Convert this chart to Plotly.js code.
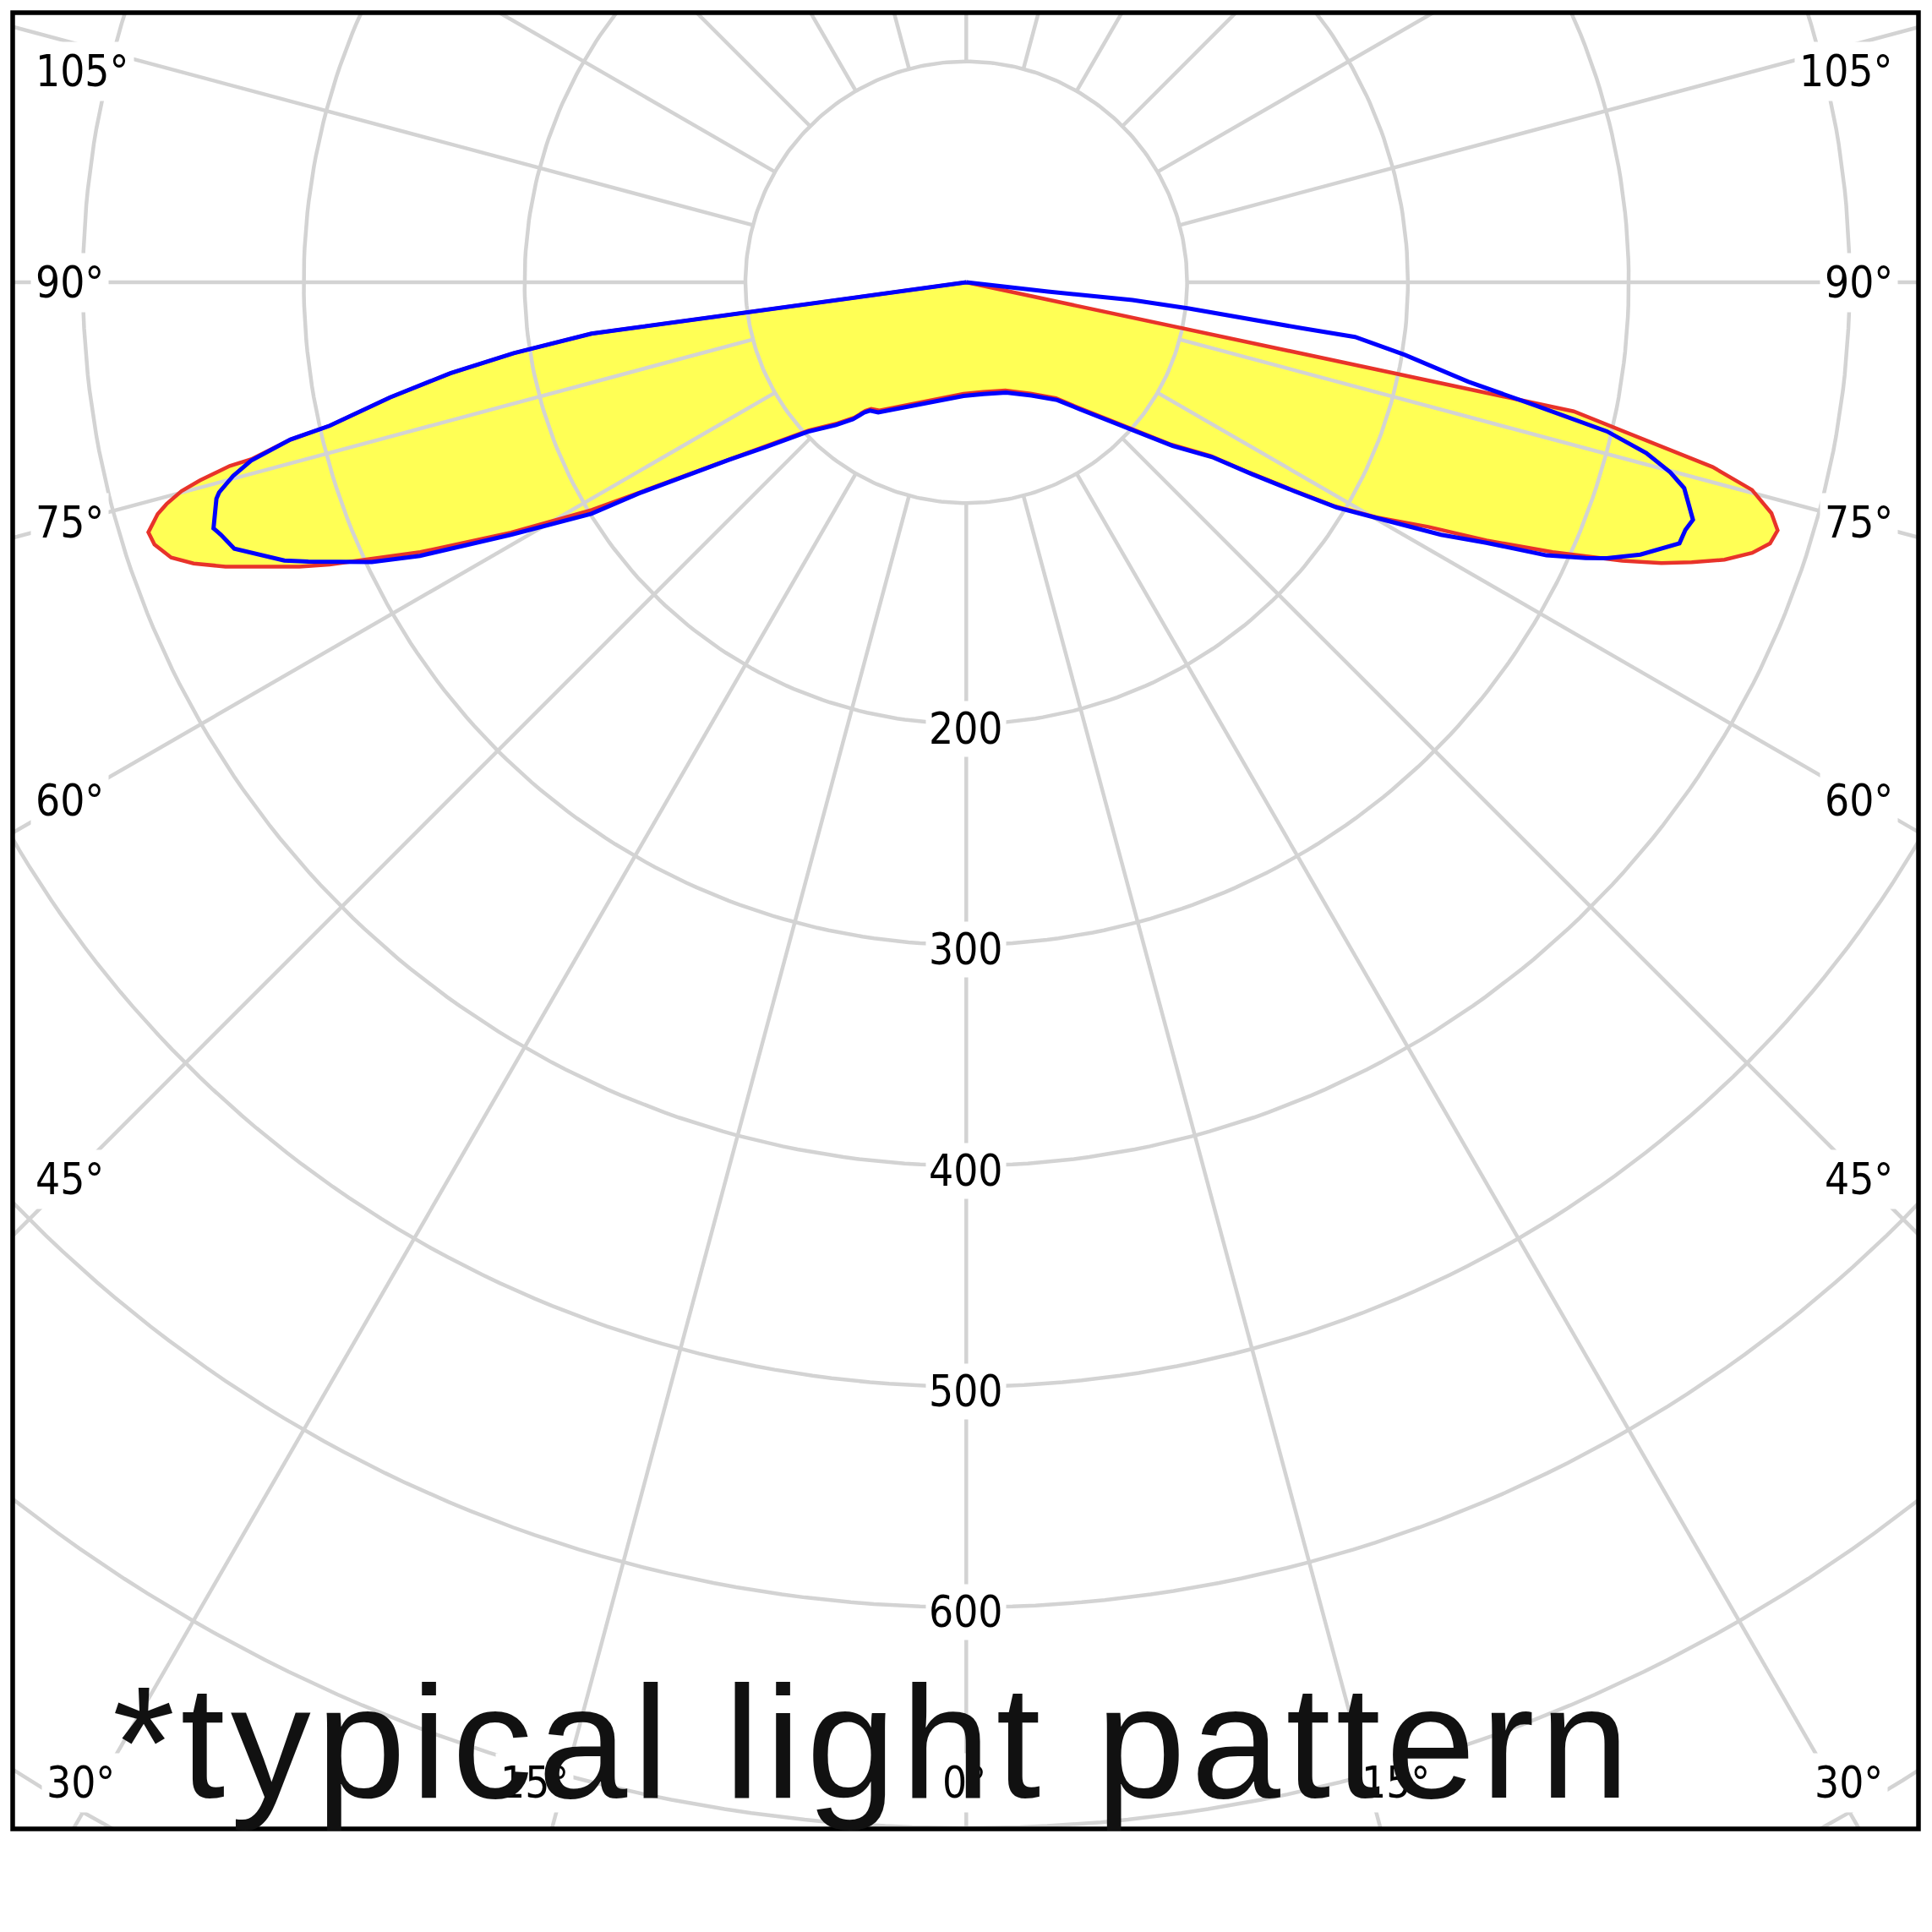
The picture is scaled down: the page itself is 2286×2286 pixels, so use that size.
<!DOCTYPE html>
<html><head><meta charset="utf-8">
<script src="https://cdn.plot.ly/plotly-3.0.1.min.js"></script>
<style>
html,body{margin:0;padding:0;background:#fff;}
#chart{width:2286px;height:2286px;}
</style>
</head><body><div id="chart"></div>
<script>
// ---- data (angle in degrees from nadir, negative = left side; r in cd scale) ----
const redAngle = [-90, -82.2, -81.1, -80.0, -78.7, -77.3, -76.9, -76.1, -76.0, -75.5, -75.1, -74.5, -74.0, -73.0, -72.1, -70.9, -70.0, -69.0, -66.9, -66.1, -63.7, -61.2, -58.7, -57.2, -55.0, -53.2, -50.6, -46.7, -42.4, -39.6, -38.1, -36.9, -34.1, -30.1, -20.4, -10.9, -1.4, 8.7, 19.9, 30.0, 37.7, 41.8, 45.4, 48.5, 51.6, 54.6, 56.1, 57.5, 58.7, 60.2, 62.1, 63.6, 65.3, 67.0, 68.0, 68.9, 69.9, 71.0, 72.0, 73.0, 74.0, 75.2, 76.1, 78.0, 90];
const redR = [0, 171.3, 207.4, 237.2, 266.1, 295.5, 314.2, 333.6, 343.7, 358.5, 367.7, 375.8, 380.9, 387.3, 386.3, 381.0, 372.3, 359.3, 328.3, 315.4, 275.8, 235.3, 198.5, 175.5, 149.1, 133.3, 116.7, 97.7, 86.5, 79.5, 74.0, 71.7, 70.1, 65.6, 58.0, 53.2, 50.5, 50.2, 52.1, 58.2, 66.4, 76.1, 87.3, 100.1, 118.3, 135.6, 154.7, 174.9, 195.2, 214.2, 236.7, 263.0, 292.3, 322.7, 339.5, 352.1, 365.6, 376.4, 382.7, 384.2, 379.3, 368.0, 348.2, 281.2, 0];

const blueAngle = [-90, -82.2, -81.1, -80.0, -78.7, -77.3, -76.9, -76.0, -75.2, -74.3, -73.9, -71.9, -71.3, -70.0, -67.8, -67.0, -64.8, -63.4, -61.0, -58.3, -57.2, -55.0, -53.2, -50.6, -46.7, -42.4, -39.6, -38.1, -36.9, -34.1, -30.1, -20.4, -10.9, -1.4, 8.7, 19.9, 30.0, 37.7, 41.8, 45.4, 48.5, 51.6, 54.6, 56.1, 57.5, 58.7, 60.2, 61.6, 62.0, 63.4, 64.8, 66.0, 66.7, 68.0, 69.9, 71.0, 71.9, 74.0, 74.9, 75.9, 76.9, 77.8, 78.8, 80.6, 82.0, 82.2, 82.6, 83.3, 83.9, 83.5, 90];
const blueR = [0, 171.3, 207.4, 237.2, 266.1, 295.5, 314.2, 333.8, 343.4, 351.4, 353.4, 358.6, 356.4, 352.7, 333.5, 323.7, 297.5, 276.7, 235.8, 199.5, 176.5, 150.1, 134.3, 117.7, 98.7, 87.5, 80.5, 75.0, 72.7, 71.1, 66.6, 59.0, 54.2, 51.5, 51.2, 53.1, 59.2, 67.4, 77.1, 88.3, 101.1, 119.3, 136.6, 155.7, 175.9, 196.2, 215.2, 237.9, 243.5, 263.4, 290.4, 307.0, 315.8, 329.2, 343.9, 344.4, 346.2, 338.2, 330.2, 317.5, 297.9, 263.3, 231.7, 201.3, 177.8, 153.2, 127.3, 101.5, 75.7, 37.2, 0];

const radialTicks = [200, 300, 400, 500, 600];
const sideAngleLabels = [105, 90, 75, 60, 45];
const bottomAngleLabels = [30, 15, 0, 15, 30];
const noteText = '*typical light pattern';

// ---- geometry helpers ----
const CX = 1143.3, CY = 334, K = 2.613;           // pixel centre and px per unit
const PL = 15, PR = 2270, PT = 15, PB = 2164;        // frame in pixels
const X = px => (px - CX) / K;
const Y = py => (CY - py) / K;
const toXY = (ang, r) => {
  const x = [], y = [];
  for (let i = 0; i < ang.length; i++) {
    const t = ang[i] * Math.PI / 180;
    x.push(r[i] * Math.sin(t));
    y.push(-r[i] * Math.cos(t));
  }
  return {x, y};
};
const red = toXY(redAngle, redR);
const blue = toXY(blueAngle, blueR);

// grid: circles and spokes
const gcx = [], gcy = [];
for (let rr = 100; rr <= 900; rr += 100) {
  for (let a = 0; a <= 360; a += 1) {
    const t = a * Math.PI / 180;
    gcx.push(rr * Math.sin(t)); gcy.push(-rr * Math.cos(t));
  }
  gcx.push(null); gcy.push(null);
}
const gsx = [], gsy = [];
for (let a = 0; a < 360; a += 15) {
  const t = a * Math.PI / 180;
  gsx.push(100 * Math.sin(t), 1000 * Math.sin(t), null);
  gsy.push(-100 * Math.cos(t), -1000 * Math.cos(t), null);
}

const traces = [
  {x: red.x, y: red.y, mode: 'lines', fill: 'toself', fillcolor: '#ffff55',
   line: {width: 0, color: 'rgba(0,0,0,0)'}, hoverinfo: 'skip', showlegend: false},
  {x: gcx, y: gcy, mode: 'lines', line: {color: '#d3d3d3', width: 4.5}, hoverinfo: 'skip', showlegend: false},
  {x: gsx, y: gsy, mode: 'lines', line: {color: '#d3d3d3', width: 4.5}, hoverinfo: 'skip', showlegend: false},
  {x: red.x, y: red.y, mode: 'lines', line: {color: '#e8332a', width: 4.5}, hoverinfo: 'skip', showlegend: false},
  {x: blue.x, y: blue.y, mode: 'lines', line: {color: '#0000ff', width: 5}, hoverinfo: 'skip', showlegend: false}
];

const labFont = {family: 'DejaVu Sans Condensed, DejaVu Sans, sans-serif', size: 51, color: '#000'};
const ann = [];
radialTicks.forEach(v => ann.push({
  x: 0, y: -v, xref: 'x', yref: 'y', text: String(v), showarrow: false,
  font: labFont, bgcolor: '#fff', borderpad: 3, yshift: -6
}));
// side labels: y along the spoke at the label column, clamped to the frame
const sideY = a => Math.max(84, CY + (CX - 81.5) * Math.tan((90 - a) * Math.PI / 180));
sideAngleLabels.forEach(a => {
  ann.push({x: X(36), y: Y(sideY(a)), xref: 'x', yref: 'y', xanchor: 'left', text: a + '°',
    showarrow: false, font: labFont, bgcolor: '#fff', borderpad: 5});
  ann.push({x: X(2246), y: Y(sideY(a)), xref: 'x', yref: 'y', xanchor: 'right', text: a + '°',
    showarrow: false, font: labFont, bgcolor: '#fff', borderpad: 5});
});
const bottomPx = [95.5, 632.5, 1141, 1651, 2187];
bottomAngleLabels.forEach((a, i) => ann.push({
  x: X(bottomPx[i]), y: Y(2109), xref: 'x', yref: 'y', text: a + '°', showarrow: false,
  font: labFont, bgcolor: '#fff', borderpad: 5
}));
const noteIndex = ann.length;
ann.push({x: X(131), y: Y(2061), xref: 'x', yref: 'y', xanchor: 'left', yanchor: 'middle', align: 'left',
  text: noteText, showarrow: false,
  font: {family: 'Liberation Sans, Arial, sans-serif', size: 190, color: '#111111'}});

const st = document.createElement('style');
st.textContent = '.annotation[data-index="' + noteIndex + '"] .annotation-text{letter-spacing:6.5px;}';
document.head.appendChild(st);

const layout = {
  width: 2286, height: 2286,
  margin: {l: PL, r: 2286 - PR, t: PT, b: 2286 - PB, pad: 0},
  paper_bgcolor: '#fff', plot_bgcolor: '#fff',
  showlegend: false,
  xaxis: {range: [X(PL), X(PR)], showgrid: false, zeroline: false, showticklabels: false, ticks: '', fixedrange: true},
  yaxis: {range: [Y(PB), Y(PT)], showgrid: false, zeroline: false, showticklabels: false, ticks: '', fixedrange: true},
  shapes: [{type: 'rect', xref: 'paper', yref: 'paper', x0: 0, x1: 1, y0: 0, y1: 1,
    line: {color: '#000', width: 5.5}, fillcolor: 'rgba(0,0,0,0)', layer: 'above'}],
  annotations: ann
};
Plotly.newPlot('chart', traces, layout, {staticPlot: true, displayModeBar: false});
</script>
</body></html>
